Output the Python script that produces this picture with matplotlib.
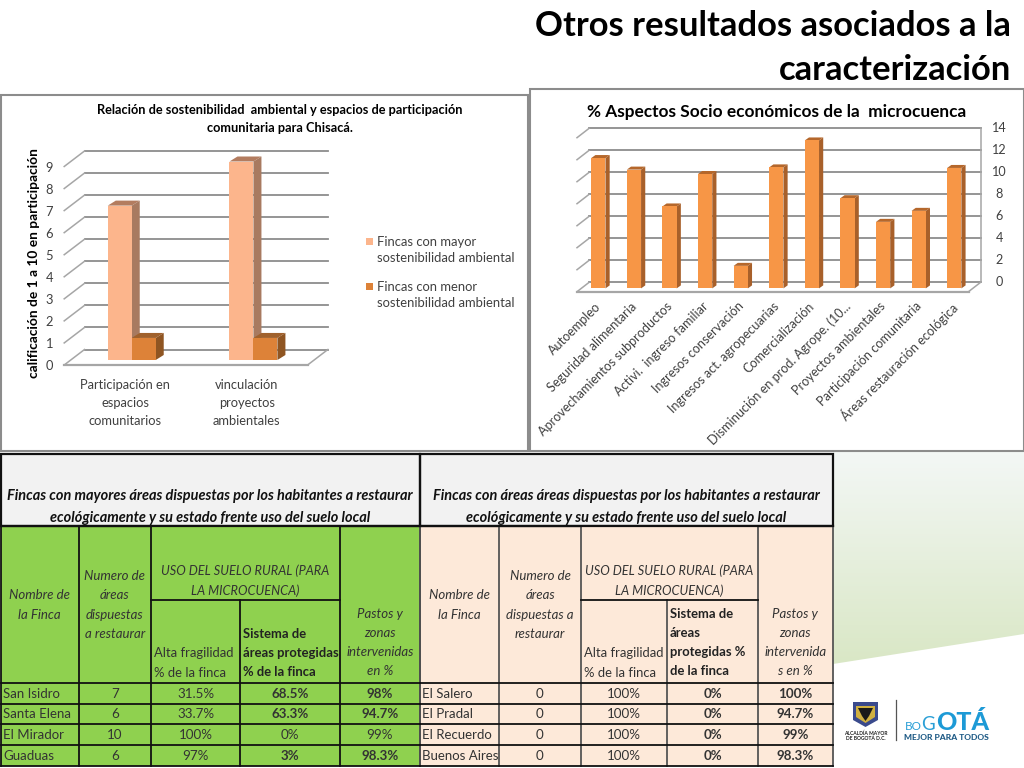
import numpy as np
import matplotlib
matplotlib.use('Agg')
import matplotlib.pyplot as plt
from matplotlib.patches import Polygon, Rectangle
from matplotlib.transforms import Affine2D

plt.rcParams['font.family'] = ['Lato', 'DejaVu Sans']

# grafico izquierdo
part_cats = ['Participación en\nespacios\ncomunitarios', 'vinculación\nproyectos\nambientales']
part_mayor = [7, 9]
part_menor = [1, 1]
part_legend = ['Fincas con mayor\nsostenibilidad ambiental', 'Fincas con menor\nsostenibilidad ambiental']
part_ticks = list(range(0, 10))

# grafico derecho
socio_cats = ['Autoempleo', 'Seguridad alimentaria', 'Aprovechamientos subproductos',
              'Activi.  ingreso familiar', 'Ingresos conservación', 'Ingresos act. agropecuarias',
              'Comercialización', 'Disminución en prod. Agrope. (10...', 'Proyectos ambientales',
              'Participación comunitaria', 'Áreas restauración ecológica']
socio_vals = [11.85, 10.8, 7.45, 10.4, 2.05, 11.0, 13.45, 8.2, 6.05, 7.05, 10.95]
socio_ticks = [0, 2, 4, 6, 8, 10, 12, 14]

# tablas
tabla_izq_titulo = 'Fincas con mayores áreas dispuestas por los habitantes a restaurar\necológicamente y su estado frente uso del suelo local'
tabla_der_titulo = 'Fincas con áreas áreas dispuestas por los habitantes a restaurar\necológicamente y su estado frente uso del suelo local'
tabla_izq = [['San Isidro', '7', '31.5%', '68.5%', '98%'],
             ['Santa Elena', '6', '33.7%', '63.3%', '94.7%'],
             ['El Mirador', '10', '100%', '0%', '99%'],
             ['Guaduas', '6', '97%', '3%', '98.3%']]
tabla_izq_bold = [[0, 0, 0, 1, 1], [0, 0, 0, 1, 1], [0, 0, 0, 0, 0], [0, 0, 0, 1, 1]]
tabla_der = [['El Salero', '0', '100%', '0%', '100%'],
             ['El Pradal', '0', '100%', '0%', '94.7%'],
             ['El Recuerdo', '0', '100%', '0%', '99%'],
             ['Buenos Aires', '0', '100%', '0%', '98.3%']]
tabla_der_bold = [[0, 0, 0, 1, 1]] * 4

W, H = 1024, 768
fig = plt.figure(figsize=(W / 100, H / 100), dpi=100, facecolor='white')

page = fig.add_axes([0, 0, 1, 1])
page.set_xlim(0, W)
page.set_ylim(H, 0)
page.axis('off')


def make_ax(x0, x1, y_top, y_bottom):
    ax = fig.add_axes([x0 / W, 1 - y_bottom / H, (x1 - x0) / W, (y_bottom - y_top) / H])
    ax.patch.set_alpha(0)
    for s in ax.spines.values():
        s.set_visible(False)
    return ax


def shifted(ax, dx, dy):
    # desplaza en pixeles, para la perspectiva
    return ax.transData + Affine2D().translate(dx, dy)


def wall(ax, ticks, xmax, dx, dy, color='#8c8c8c'):
    for v in ticks:
        ax.plot([0, xmax], [v, v], transform=shifted(ax, dx, dy), color=color, lw=1.3, clip_on=False)
    a = ax.transData.transform([(0, t) for t in ticks])
    for (px, py) in a:
        ax.plot([px, px + dx], [py, py + dy], transform=None, color='#a6a6a6', lw=1.1, clip_on=False)
    p0 = ax.transData.transform((xmax, 0))
    ax.plot([p0[0], p0[0] + dx], [p0[1], p0[1] + dy], transform=None, color='#a6a6a6', lw=1.1, clip_on=False)
    ax.plot([0, xmax], [0, 0], color='#a6a6a6', lw=1.6, clip_on=False)


def bar3d(ax, x, w, v, front, top, side, ox, oy, ddx, ddy, z=3):
    l = ax.transData.transform((x, 0))
    r = ax.transData.transform((x + w, v))
    x0, y0 = l[0] + ox, l[1] + oy
    x1, y1 = r[0] + ox, r[1] + oy
    ax.add_patch(Polygon([(x0, y1), (x1, y1), (x1 + ddx, y1 + ddy), (x0 + ddx, y1 + ddy)],
                         transform=None, fc=top, ec='none', zorder=z, clip_on=False))
    ax.add_patch(Polygon([(x1, y0), (x1 + ddx, y0 + ddy), (x1 + ddx, y1 + ddy), (x1, y1)],
                         transform=None, fc=side, ec='none', zorder=z, clip_on=False))
    ax.bar(x, v, width=w, align='edge', color=front, zorder=z + 0.5,
           transform=shifted(ax, ox, oy), clip_on=False)


# fondo con degradado (derecha abajo)
grad = np.linspace(0, 1, 200).reshape(-1, 1)
c0 = np.array([0.955, 0.97, 0.965])
c1 = np.array([0.85, 0.905, 0.77])
img = c0 + (c1 - c0) * grad[..., None]
im = page.imshow(img, extent=[833, 1024, 668, 450], aspect='auto', zorder=0)
clip = Polygon([(833, 450), (1024, 450), (1024, 634), (833, 664)], transform=page.transData, fc='none', ec='none')
page.add_patch(clip)
im.set_clip_path(clip)
page.set_xlim(0, W)
page.set_ylim(H, 0)

# titulo
page.text(1011, 26, 'Otros resultados asociados a la', ha='right', va='center', fontsize=24.9,
          fontweight='bold', color='black')
page.text(1011, 70, 'caracterización', ha='right', va='center', fontsize=24.9, fontweight='bold', color='black')

# marcos de los graficos
page.add_patch(Rectangle((0.5, 94.5), 527.5, 356, fc='white', ec='#8c8c8c', lw=1.5, zorder=1))
page.add_patch(Rectangle((529.5, 88.5), 494, 362, fc='white', ec='#8c8c8c', lw=1.5, zorder=1))
page.text(280, 119, 'Relación de sostenibilidad  ambiental y espacios de participación\ncomunitaria para Chisacá.',
          ha='center', va='center', fontsize=9.2, fontweight='bold', linespacing=1.55, zorder=2)
page.text(777, 112, '% Aspectos Socio económicos de la  microcuenca', ha='center', va='center',
          fontsize=12.4, fontweight='bold', zorder=2)

# --- grafico izquierdo
ax1 = make_ax(64.2, 307.6, 166.5, 365)
ax1.set_zorder(2)
ax1.set_xlim(0, 2)
ax1.set_ylim(0, 9)
wall(ax1, part_ticks, 2, 20.3, 15.5)
for i in range(len(part_cats)):
    bar3d(ax1, i + 0.358, 0.197, part_mayor[i], '#fcb58c', '#b37c5f', '#a87a60', 0, 5, 8, 5)
    bar3d(ax1, i + 0.555, 0.197, part_menor[i], '#dd8238', '#a0612c', '#8f5522', 0, 5, 8, 5)
ax1.set_xticks([0.5, 1.5])
ax1.set_xticklabels(part_cats, fontsize=9.3, color='#404040', linespacing=1.6)
ax1.set_yticks(part_ticks)
ax1.set_yticklabels([str(v) for v in part_ticks], fontsize=9.3, color='#404040')
ax1.tick_params(axis='both', length=0)
ax1.tick_params(axis='x', pad=10)
ax1.tick_params(axis='y', pad=8)
page.text(34, 263, 'calificación de 1 a 10 en participación', rotation=90, ha='center', va='center',
          fontsize=9.9, fontweight='bold', zorder=2)
legend_cols = ['#fcb58c', '#dd8238']
for label, col, ly in zip(part_legend, legend_cols, [241, 286]):
    page.add_patch(Rectangle((366, ly - 3.5), 7, 7, fc=col, ec='none', zorder=2))
    page.text(377, ly + 9, label, ha='left', va='center', fontsize=9.4, color='#404040',
              linespacing=1.42, zorder=2)

# --- grafico derecho
ax2 = make_ax(577, 968.5, 137.7, 291.7)
ax2.set_zorder(2)
ax2.set_xlim(0, len(socio_cats))
ax2.set_ylim(0, 14)
wall(ax2, socio_ticks, len(socio_cats), 12, 9.3)
# pared derecha del fondo
ax2.plot([len(socio_cats), len(socio_cats)], [0, 14], transform=shifted(ax2, 12, 9.3), color='#a6a6a6', lw=1.1, clip_on=False)
for i, v in enumerate(socio_vals):
    bar3d(ax2, i + 0.4, 0.4, v, '#f79646', '#b5672b', '#a8602a', 0, 3.3, 4.2, 3)
ax2.set_xticks(np.arange(len(socio_cats)) + 0.5)
ax2.set_xticklabels(socio_cats, rotation=45, ha='right', rotation_mode='anchor', fontsize=9.1, color='#404040')
ax2.set_yticks([])
ax2.tick_params(axis='x', length=0, pad=6)
for v in socio_ticks:
    ax2.text(len(socio_cats), v, str(v), transform=shifted(ax2, 31, 9.3), ha='center', va='center',
             fontsize=9.1, color='#404040', clip_on=False)


# --- tablas
def draw_table(xs, title, rows, bold_rows, fill, head, line_col):
    top, tb = 453.5, 526
    row_y = [683, 703.5, 724, 745, 765.5]
    sub = 600
    x0, xn = xs[0], xs[-1]
    z = 3
    page.add_patch(Rectangle((x0, top), xn - x0, tb - top, fc='#f2f2f2', ec='none', zorder=z))
    page.add_patch(Rectangle((x0, tb), xn - x0, row_y[-1] - tb, fc=fill, ec='none', zorder=z))
    page.add_patch(Rectangle((x0, top), xn - x0, tb - top, fc='none', ec='#111111', lw=1.6, zorder=z + 1))
    page.text((x0 + xn) / 2, 507, title, ha='center', va='center', fontsize=10.45, fontweight='bold',
              style='italic', linespacing=1.72, zorder=z + 2, color='#111111')
    for x in xs:
        page.plot([x, x], [tb, row_y[-1]], color=line_col, lw=1.3, zorder=z + 1)
    # sin linea interior arriba, en uso del suelo
    page.add_patch(Rectangle((xs[2] + 1, tb + 1), xs[4] - xs[2] - 2, sub - tb - 2, fc=fill, ec='none', zorder=z + 1))
    page.plot([xs[2], xs[4]], [sub, sub], color='#111111', lw=1.3, zorder=z + 2)
    page.plot([x0, xn], [tb, tb], color='#111111', lw=1.6, zorder=z + 2)
    for y in row_y:
        page.plot([x0, xn], [y, y], color='#111111', lw=1.3, zorder=z + 2)
    kw = dict(ha='center', va='center', fontsize=9.5, style='italic', color='#333333',
              linespacing=1.72, zorder=z + 3)
    page.text((xs[0] + xs[1]) / 2, 605, head[0], **kw)
    page.text((xs[1] + xs[2]) / 2, 605, head[1], **kw)
    kw_uso = dict(kw, fontsize=9.15, linespacing=1.75)
    page.text((xs[2] + xs[4]) / 2, 581, 'USO DEL SUELO RURAL (PARA\nLA MICROCUENCA)', **kw_uso)
    page.text((xs[4] + xn) / 2, 642.5, head[2], **kw)
    page.text(xs[2] + 3, 663, 'Alta fragilidad\n% de la finca', ha='left', va='center', fontsize=9.4,
              color='#333333', linespacing=1.72, zorder=z + 3)
    page.text(xs[3] + 3, head[4], head[3], ha='left', va='center', fontsize=9.4, fontweight='bold',
              color='#222222', linespacing=1.72, zorder=z + 3)
    for r, row in enumerate(rows):
        yc = (row_y[r] + row_y[r + 1]) / 2 + 0.5
        page.text(xs[0] + 2.5, yc, row[0], ha='left', va='center', fontsize=9.5, color='#333333', zorder=z + 3)
        for c in range(1, 5):
            page.text((xs[c] + xs[c + 1]) / 2, yc, row[c], ha='center', va='center', fontsize=9.6,
                      fontweight='bold' if bold_rows[r][c] else 'normal', color='#333333', zorder=z + 3)


draw_table([0.5, 78.5, 151, 240, 339.5, 420], tabla_izq_titulo, tabla_izq, tabla_izq_bold, '#8fd14f',
           ['Nombre de\nla Finca', 'Numero de\náreas\ndispuestas\na restaurar', 'Pastos y\nzonas\nintervenidas\nen %',
            'Sistema de\náreas protegidas\n% de la finca', 653], '#111111')
draw_table([420, 499, 581, 667, 758, 832.5], tabla_der_titulo, tabla_der, tabla_der_bold, '#fde9d9',
           ['Nombre de\nla Finca', 'Numero de\náreas\ndispuestas a\nrestaurar', 'Pastos y\nzonas\nintervenida\ns en %',
            'Sistema de\náreas\nprotegidas %\nde la finca', 642.5], '#555555')

# --- logo
page.add_patch(Polygon([(853, 702), (878, 702), (878, 720), (865.5, 727), (853, 720)], fc='#3a4a8c', ec='none', zorder=5))
page.add_patch(Polygon([(856, 706), (875, 706), (875, 717), (865.5, 723), (856, 717)], fc='#d0b040', ec='none', zorder=6))
page.add_patch(Polygon([(858, 708), (873, 708), (869, 716), (865.5, 721), (862, 716)], fc='#1a1a1a', ec='none', zorder=7))
page.text(865.5, 733, 'ALCALDÍA MAYOR', ha='center', va='center', fontsize=3.6, fontweight='bold', color='#222222', zorder=5)
page.text(865.5, 738, 'DE BOGOTÁ D.C.', ha='center', va='center', fontsize=3.6, fontweight='bold', color='#222222', zorder=5)
page.plot([895.5, 895.5], [700, 740], color='#555555', lw=0.9, zorder=5)
page.text(905, 730.5, 'BO', ha='left', va='baseline', fontsize=8.5, color='#2a9fd6', zorder=5)
page.text(921, 730.5, 'G', ha='left', va='baseline', fontsize=13.5, color='#2a9fd6', zorder=5)
page.text(936, 730.5, 'OTÁ', ha='left', va='baseline', fontsize=18, fontweight='black', color='#1d9ad6', zorder=5)
page.text(904, 737.5, 'MEJOR PARA TODOS', ha='left', va='center', fontsize=6.1, fontweight='black', color='#1f5b86', zorder=5)

fig.savefig('out.png', dpi=100)
